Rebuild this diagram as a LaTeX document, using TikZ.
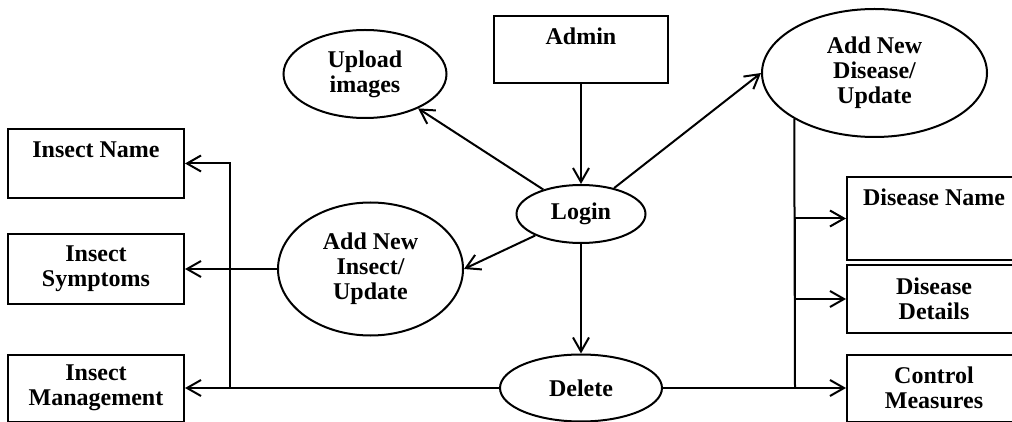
\documentclass[tikz,border=0pt]{standalone}
\usepackage{fontspec}
\setmainfont{Liberation Serif}
\usetikzlibrary{arrows.meta,shapes.geometric}

\begin{document}
\begin{tikzpicture}[
  x=0.5pt, y=-0.5pt, line width=1pt,
  box/.style={draw, inner sep=0pt, align=center, font=\bfseries\fontsize{12}{12.5}\selectfont},
  topbox/.style={box, text height=14.5pt, text depth=#1},
  proc/.style={ellipse, draw, inner sep=0pt, align=center, font=\bfseries\fontsize{12}{12.5}\selectfont},
  arr/.style={-{Straight Barb[length=7pt, width=8pt]}}
]
  \clip (0,0) rectangle (1012,422);

  \node[topbox=19pt, minimum width=87pt] (admin) at (581,49.5) {Admin};
  \node[proc, minimum width=81.5pt, minimum height=44pt] (upload) at (365,74) {Upload\\images};
  \node[proc, minimum width=64.5pt, minimum height=29pt] (login) at (581,214) {Login};
  \node[proc, minimum width=112.5pt, minimum height=64pt] (dis) at (874.5,73) {Add New\\Disease/\\Update};
  \node[proc, minimum width=92.5pt, minimum height=66.5pt] (ins) at (370.5,269) {Add New\\Insect/\\Update};
  \node[proc, minimum width=81pt, minimum height=33.5pt] (del) at (581,388) {Delete};

  \node[topbox=20pt, minimum width=88pt] (iname) at (96,163.5) {Insect Name};
  \node[box, minimum width=88pt, minimum height=35pt] (sym) at (96,269) {Insect\\Symptoms};
  \node[box, minimum width=88pt, minimum height=33.5pt] (mgmt) at (96,388) {Insect\\Management};

  \node[topbox=27pt, minimum width=87pt] (dname) at (934,218.5) {Disease Name};
  \node[box, minimum width=87pt, minimum height=34pt] (ddet) at (934,299) {Disease\\Details};
  \node[box, minimum width=87pt, minimum height=33.5pt] (ctrl) at (934,388) {Control\\Measures};

  \coordinate (jl) at (230,388);
  \coordinate (jr) at (795,388);

  \draw[arr] (admin) -- (login);
  \draw[arr] (login) -- (upload);
  \draw[arr] (login) -- (dis.west);
  \draw[arr] (login) -- (ins.east);
  \draw[arr] (login) -- (del);

  \draw[arr] (ins) -- (sym);
  \draw[arr] (del) -- (mgmt);
  \draw[arr] (jl) |- (iname);

  \draw[arr] (del) -- (ctrl);
  \draw (dis.south west) -- (jr);
  \draw[arr] (jr) |- (dname);
  \draw[arr] (jr) |- (ddet);
\end{tikzpicture}
\end{document}
